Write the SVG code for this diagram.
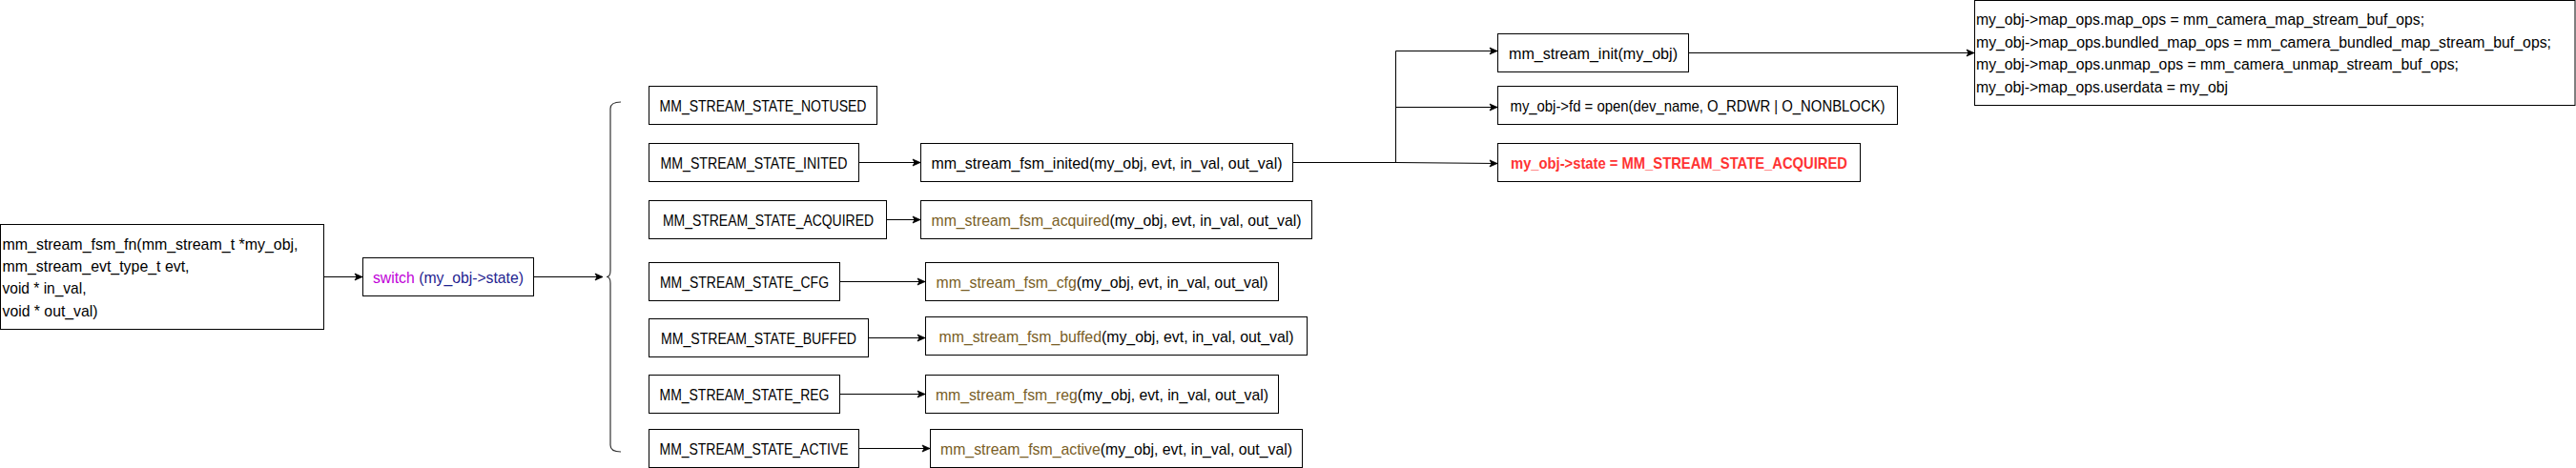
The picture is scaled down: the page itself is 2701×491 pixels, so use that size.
<svg xmlns="http://www.w3.org/2000/svg" width="2701" height="491" viewBox="0 0 2701 491">
<defs>
<style>
.box{fill:#fff;stroke:#000;stroke-width:1}
.t{font-family:"Source Sans Pro","Liberation Sans",Arial,sans-serif;font-size:17px;fill:#000}
.s{font-size:16px}
.c{text-anchor:middle}
.fn{fill:#795E26}
.kw{fill:#C000D8}
.var{fill:#1F2390}
.red{fill:#FF3333;font-weight:bold}
.edge{fill:none;stroke:#000;stroke-width:1}
.brace{fill:none;stroke:#333;stroke-width:1.2}
</style>
<marker id="arr" markerUnits="userSpaceOnUse" markerWidth="10" markerHeight="10" viewBox="0 0 10 10" refX="9" refY="5" orient="auto">
<path d="M1,1.5 L9,5 L1,8.5 L3,5 Z" fill="#000" stroke="#000" stroke-width="0.8"/>
</marker>
</defs>

<g id="connectors">
<path class="edge" d="M340,290.5 H380" marker-end="url(#arr)"/>
<path class="edge" d="M560,290.5 H632" marker-end="url(#arr)"/>
<path class="edge" d="M900,170.5 H965" marker-end="url(#arr)"/>
<path class="edge" d="M930,230.5 H965" marker-end="url(#arr)"/>
<path class="edge" d="M880,295.5 H970" marker-end="url(#arr)"/>
<path class="edge" d="M910,354.5 H970" marker-end="url(#arr)"/>
<path class="edge" d="M880,413.5 H970" marker-end="url(#arr)"/>
<path class="edge" d="M900,470.5 H975" marker-end="url(#arr)"/>
<path class="edge" d="M1355,170.5 H1463.5 V53.5 H1570" marker-end="url(#arr)"/>
<path class="edge" d="M1355,170.5 H1463.5 V112.5 H1570" marker-end="url(#arr)"/>
<path class="edge" d="M1355,170.5 H1463.5 L1570,171.5" marker-end="url(#arr)"/>
<path class="edge" d="M1770,55.5 H2070" marker-end="url(#arr)"/>
<path class="brace" d="M651,107 Q640,107 640,114 V284 Q640,290.5 636,290.5 Q640,290.5 640,297 V467 Q640,474 651,474"/>
</g>

<g id="node-fsm-fn">
<rect class="box" x="0.5" y="235.5" width="339" height="110"/>
<text class="t" x="2.5" y="261.5" textLength="310" lengthAdjust="spacingAndGlyphs">mm_stream_fsm_fn(mm_stream_t *my_obj,</text>
<text class="t" x="2.5" y="284.5" textLength="196" lengthAdjust="spacingAndGlyphs">mm_stream_evt_type_t evt,</text>
<text class="t" x="2.5" y="308" textLength="88" lengthAdjust="spacingAndGlyphs">void * in_val,</text>
<text class="t" x="2.5" y="331.5" textLength="100" lengthAdjust="spacingAndGlyphs">void * out_val)</text>
</g>

<g id="node-switch">
<rect class="box" x="380.5" y="270.5" width="179" height="40"/>
<text class="t c" x="470" y="296.5" textLength="158" lengthAdjust="spacingAndGlyphs"><tspan class="kw">switch</tspan> <tspan class="var">(my_obj-&gt;state)</tspan></text>
</g>

<g id="node-notused">
<rect class="box" x="680.5" y="90.5" width="239" height="40"/>
<text class="t c" x="800" y="116.5" textLength="217" lengthAdjust="spacingAndGlyphs">MM_STREAM_STATE_NOTUSED</text>
</g>

<g id="node-inited">
<rect class="box" x="680.5" y="150.5" width="220" height="40"/>
<text class="t c" x="790.5" y="176.5" textLength="196" lengthAdjust="spacingAndGlyphs">MM_STREAM_STATE_INITED</text>
</g>

<g id="node-acquired">
<rect class="box" x="680.5" y="210.5" width="249" height="40"/>
<text class="t c" x="805.5" y="236.5" textLength="221" lengthAdjust="spacingAndGlyphs">MM_STREAM_STATE_ACQUIRED</text>
</g>

<g id="node-cfg">
<rect class="box" x="680.5" y="275.5" width="200" height="40"/>
<text class="t c" x="780.5" y="301.5" textLength="177" lengthAdjust="spacingAndGlyphs">MM_STREAM_STATE_CFG</text>
</g>

<g id="node-buffed">
<rect class="box" x="680.5" y="334.5" width="230" height="40"/>
<text class="t c" x="795.5" y="360.5" textLength="205" lengthAdjust="spacingAndGlyphs">MM_STREAM_STATE_BUFFED</text>
</g>

<g id="node-reg">
<rect class="box" x="680.5" y="393.5" width="200" height="40"/>
<text class="t c" x="780.5" y="419.5" textLength="178" lengthAdjust="spacingAndGlyphs">MM_STREAM_STATE_REG</text>
</g>

<g id="node-active">
<rect class="box" x="680.5" y="450.5" width="220" height="40"/>
<text class="t c" x="790.5" y="476.5" textLength="198" lengthAdjust="spacingAndGlyphs">MM_STREAM_STATE_ACTIVE</text>
</g>

<g id="node-fsm-inited">
<rect class="box" x="965.5" y="150.5" width="390" height="40"/>
<text class="t c" x="1160.5" y="176.5" textLength="368" lengthAdjust="spacingAndGlyphs">mm_stream_fsm_inited(my_obj, evt, in_val, out_val)</text>
</g>

<g id="node-fsm-acquired">
<rect class="box" x="965.5" y="210.5" width="410" height="40"/>
<text class="t c" x="1170.5" y="236.5" textLength="388" lengthAdjust="spacingAndGlyphs"><tspan class="fn">mm_stream_fsm_acquired</tspan>(my_obj, evt, in_val, out_val)</text>
</g>

<g id="node-fsm-cfg">
<rect class="box" x="970.5" y="275.5" width="370" height="40"/>
<text class="t c" x="1155.5" y="301.5" textLength="348" lengthAdjust="spacingAndGlyphs"><tspan class="fn">mm_stream_fsm_cfg</tspan>(my_obj, evt, in_val, out_val)</text>
</g>

<g id="node-fsm-buffed">
<rect class="box" x="970.5" y="332.5" width="400" height="40"/>
<text class="t c" x="1170.5" y="358.5" textLength="372" lengthAdjust="spacingAndGlyphs"><tspan class="fn">mm_stream_fsm_buffed</tspan>(my_obj, evt, in_val, out_val)</text>
</g>

<g id="node-fsm-reg">
<rect class="box" x="970.5" y="393.5" width="370" height="40"/>
<text class="t c" x="1155.5" y="419.5" textLength="349" lengthAdjust="spacingAndGlyphs"><tspan class="fn">mm_stream_fsm_reg</tspan>(my_obj, evt, in_val, out_val)</text>
</g>

<g id="node-fsm-active">
<rect class="box" x="975.5" y="450.5" width="390" height="40"/>
<text class="t c" x="1170.5" y="476.5" textLength="369" lengthAdjust="spacingAndGlyphs"><tspan class="fn">mm_stream_fsm_active</tspan>(my_obj, evt, in_val, out_val)</text>
</g>

<g id="node-init">
<rect class="box" x="1570.5" y="35.5" width="200" height="40"/>
<text class="t c" x="1670.5" y="61.5" textLength="177" lengthAdjust="spacingAndGlyphs">mm_stream_init(my_obj)</text>
</g>

<g id="node-open">
<rect class="box" x="1570.5" y="90.5" width="419" height="40"/>
<text class="t c" x="1780" y="116.5" textLength="393" lengthAdjust="spacingAndGlyphs">my_obj-&gt;fd = open(dev_name, O_RDWR | O_NONBLOCK)</text>
</g>

<g id="node-state">
<rect class="box" x="1570.5" y="150.5" width="380" height="40"/>
<text class="t c red" x="1760.5" y="176.5" textLength="353" lengthAdjust="spacingAndGlyphs">my_obj-&gt;state = MM_STREAM_STATE_ACQUIRED</text>
</g>

<g id="node-map-ops">
<rect class="box" x="2070.5" y="0.5" width="629.5" height="110"/>
<text class="t s" x="2072" y="26" textLength="470" lengthAdjust="spacingAndGlyphs">my_obj-&gt;map_ops.map_ops = mm_camera_map_stream_buf_ops;</text>
<text class="t s" x="2072" y="49.5" textLength="603" lengthAdjust="spacingAndGlyphs">my_obj-&gt;map_ops.bundled_map_ops = mm_camera_bundled_map_stream_buf_ops;</text>
<text class="t s" x="2072" y="73" textLength="506" lengthAdjust="spacingAndGlyphs">my_obj-&gt;map_ops.unmap_ops = mm_camera_unmap_stream_buf_ops;</text>
<text class="t s" x="2072" y="96.5" textLength="264" lengthAdjust="spacingAndGlyphs">my_obj-&gt;map_ops.userdata = my_obj</text>
</g>
</svg>
